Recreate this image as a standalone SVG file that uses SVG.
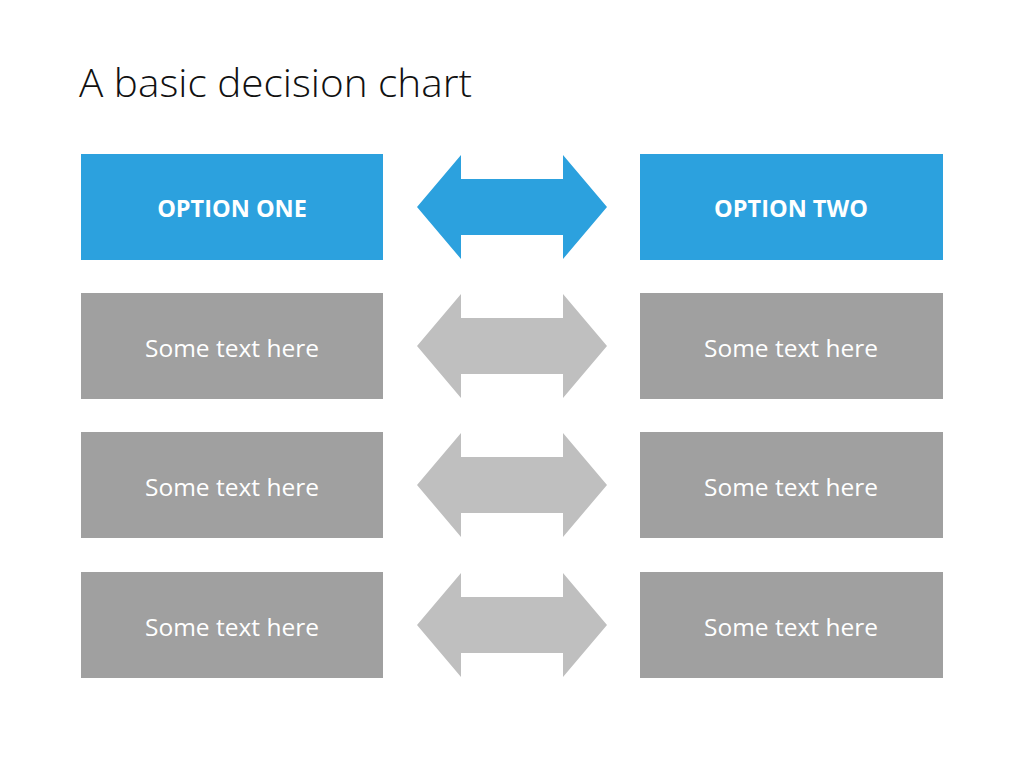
<svg xmlns="http://www.w3.org/2000/svg" width="1024" height="768" viewBox="0 0 1024 768">
<style>
.title{font-family:"Open Sans","Liberation Sans",sans-serif;font-weight:300;font-size:38px;fill:#111}
.blue{fill:#2CA1DE}
.gray{fill:#A0A0A0}
.garrow{fill:#BFBFBF}
.hdr{font-family:"Open Sans","Liberation Sans",sans-serif;font-weight:700;font-size:23.5px;fill:#fff;text-anchor:middle}
.txt{font-family:"Open Sans","Liberation Sans",sans-serif;font-size:24.5px;fill:#fff;text-anchor:middle}
</style>
<defs>
<polygon id="arr" points="417,53 461,1 461,25 563,25 563,1 607,53 563,105 563,81 461,81 461,105"/>
</defs>
<rect width="1024" height="768" fill="#fff"/>
<text class="title" x="79" y="97" textLength="393" lengthAdjust="spacingAndGlyphs">A basic decision chart</text>
<g id="opt1"><rect class="blue" x="81" y="154" width="302" height="106"/><text class="hdr" x="232" y="217">OPTION ONE</text></g>
<g id="opt2"><rect class="blue" x="640" y="154" width="303" height="106"/><text class="hdr" x="791" y="217">OPTION TWO</text></g>
<g id="l1"><rect class="gray" x="81" y="293" width="302" height="106"/><text class="txt" x="232" y="357">Some text here</text></g>
<g id="r1"><rect class="gray" x="640" y="293" width="303" height="106"/><text class="txt" x="791" y="357">Some text here</text></g>
<g id="l2"><rect class="gray" x="81" y="432" width="302" height="106"/><text class="txt" x="232" y="496">Some text here</text></g>
<g id="r2"><rect class="gray" x="640" y="432" width="303" height="106"/><text class="txt" x="791" y="496">Some text here</text></g>
<g id="l3"><rect class="gray" x="81" y="572" width="302" height="106"/><text class="txt" x="232" y="636">Some text here</text></g>
<g id="r3"><rect class="gray" x="640" y="572" width="303" height="106"/><text class="txt" x="791" y="636">Some text here</text></g>
<g id="connectors">
<use href="#arr" class="blue" y="154"/>
<use href="#arr" class="garrow" y="293"/>
<use href="#arr" class="garrow" y="432"/>
<use href="#arr" class="garrow" y="572"/>
</g>
</svg>
